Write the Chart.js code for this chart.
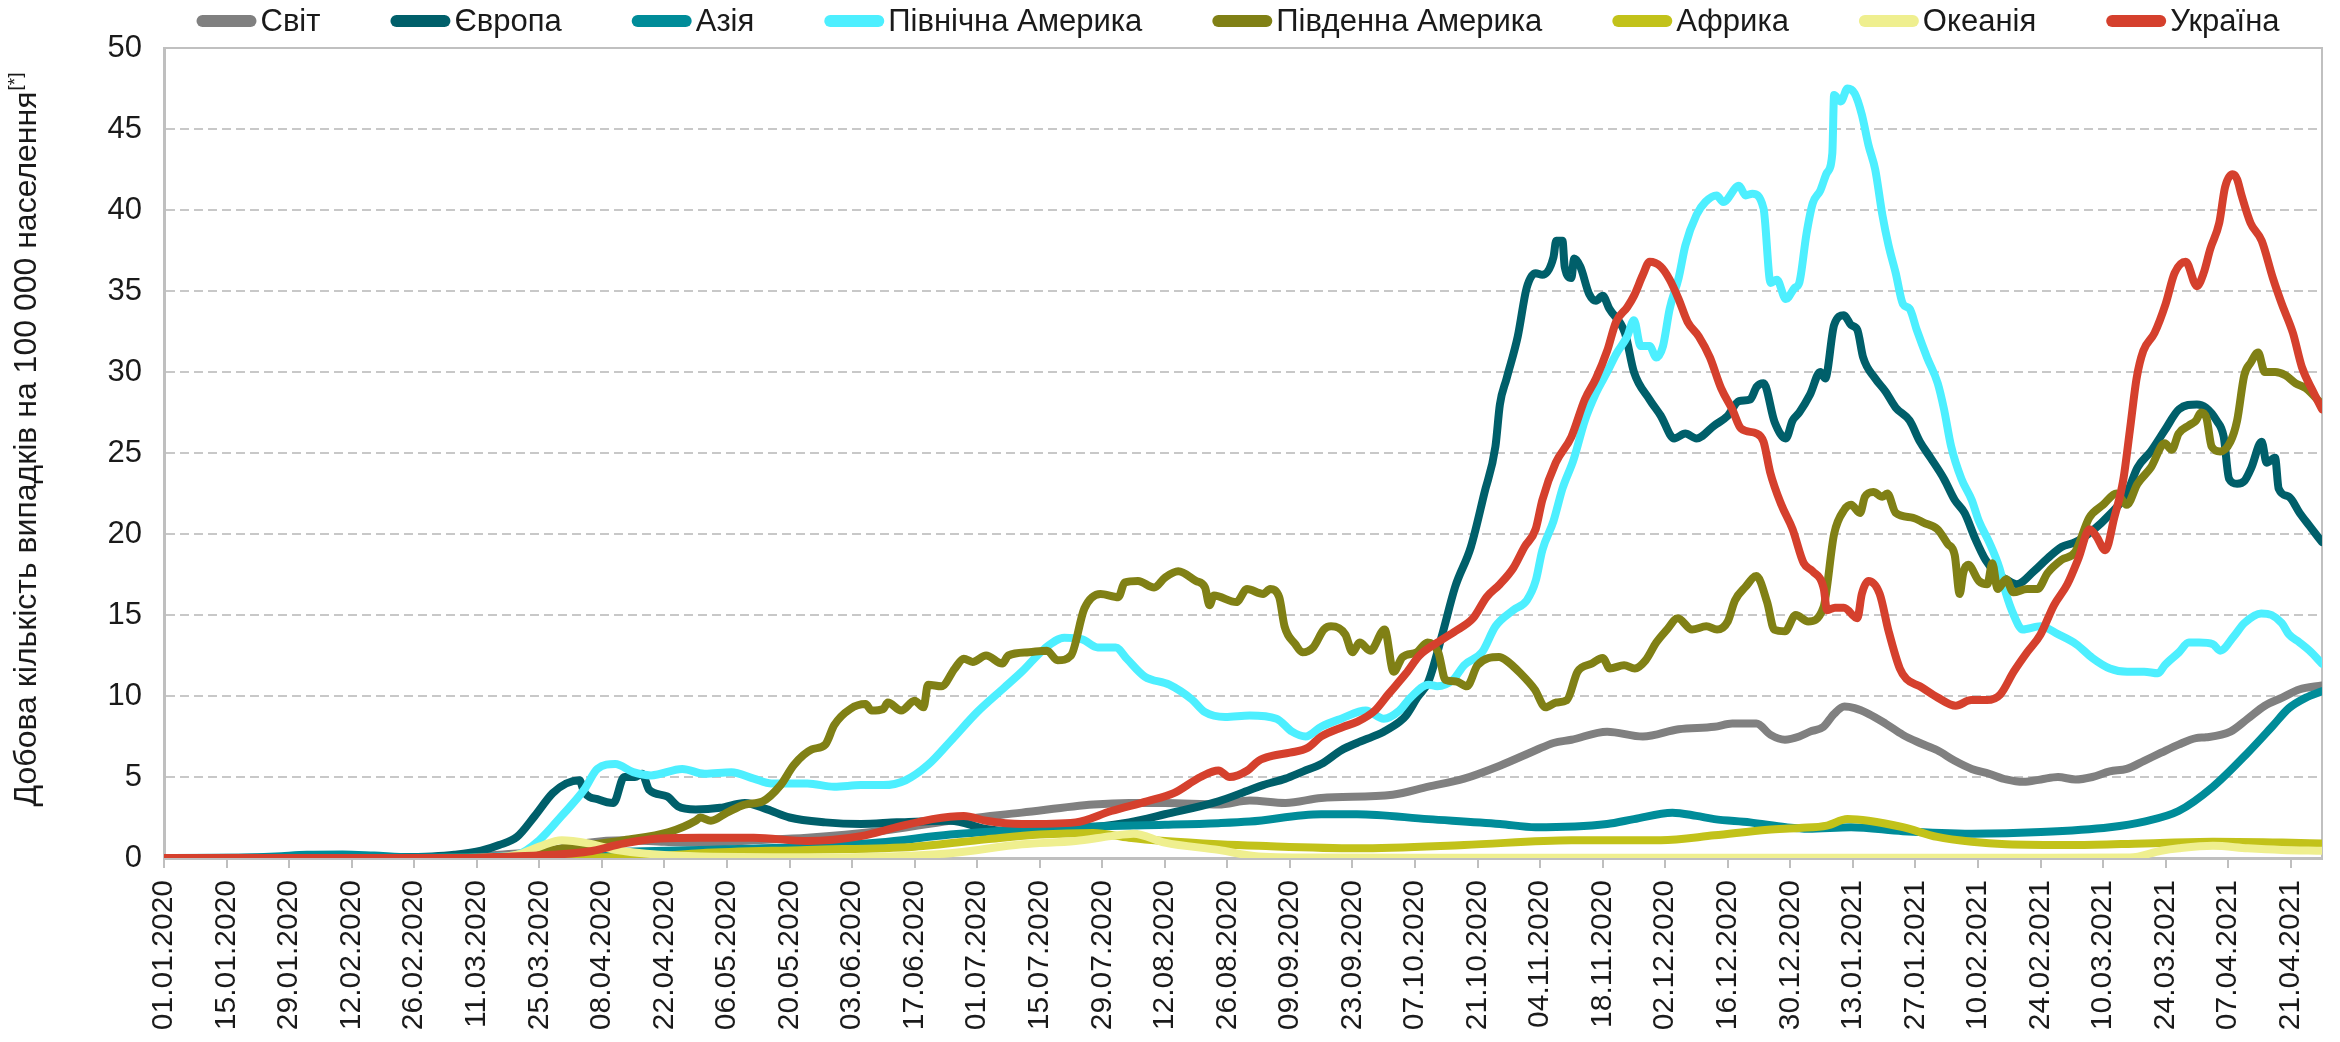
<!DOCTYPE html>
<html><head><meta charset="utf-8">
<script src="https://cdn.jsdelivr.net/npm/chart.js@4/dist/chart.umd.min.js"></script>
<style>html,body{margin:0;padding:0;background:#fff;}#wrap{width:2340px;height:1042px;}</style>
</head><body><div id="wrap"><canvas id="c" width="2340" height="1042"></canvas></div>
<script>
// day index 0 = 01.01.2020
const seriesNames = ['Світ','Європа','Азія','Північна Америка','Південна Америка','Африка','Океанія','Україна'];
const seriesColors = ['#808080','#005F6A','#008C99','#4DEFFF','#808015','#C2C21A','#EFEF8F','#D5402D'];

const tickDays = [0,14,28,42,56,70,84,98,112,126,140,154,168,182,196,210,224,238,252,266,280,294,308,322,336,350,364,378,392,406,420,434,448,462,476];
const tickLabels = ['01.01.2020','15.01.2020','29.01.2020','12.02.2020','26.02.2020','11.03.2020','25.03.2020','08.04.2020','22.04.2020','06.05.2020','20.05.2020','03.06.2020','17.06.2020','01.07.2020','15.07.2020','29.07.2020','12.08.2020','26.08.2020','09.09.2020','23.09.2020','07.10.2020','21.10.2020','04.11.2020','18.11.2020','02.12.2020','16.12.2020','30.12.2020','13.01.2021','27.01.2021','10.02.2021','24.02.2021','10.03.2021','24.03.2021','07.04.2021','21.04.2021'];

const world = [[0,0],[20,0.01],[35,0.03],[50,0.02],[65,0.05],[75,0.2],[87,0.5],[95,0.95],[103,1.1],[112,1.0],[120,0.95],[132,1.1],[144,1.25],[160,1.65],[176,2.3],[192,2.8],[208,3.3],[216,3.4],[224,3.4],[236,3.3],[243,3.55],[251,3.4],[259,3.7],[275,3.9],[283,4.4],[291,4.9],[299,5.7],[307,6.65],[311,7.1],[315,7.3],[323,7.8],[331,7.5],[339,7.95],[347,8.1],[351,8.3],[356.4,8.3],[359.6,7.6],[362.8,7.3],[366,7.5],[368.4,7.8],[371.4,8.1],[373.8,8.9],[376.1,9.35],[378.4,9.25],[381.5,8.9],[385.3,8.3],[389.2,7.6],[393,7.1],[396.9,6.65],[400.8,6.0],[404.6,5.5],[408.5,5.2],[412.3,4.85],[416.2,4.7],[420.1,4.85],[423.9,5.0],[427.8,4.85],[431.6,5.0],[435.5,5.35],[439.3,5.5],[443.2,6.0],[447,6.5],[450.9,7.0],[454.8,7.4],[457.1,7.45],[462.5,7.8],[466.4,8.6],[470.2,9.4],[474.1,9.9],[477.9,10.4],[483,10.65]];

const europe = [[0,0],[30,0.02],[50,0.05],[60,0.1],[65,0.2],[71,0.45],[75,0.8],[79,1.3],[83,2.6],[87,4.0],[90,4.6],[93,4.8],[94,4.1],[97.4,3.6],[100.6,3.4],[103,5.0],[105.4,5.0],[107,5.2],[108.6,4.2],[112.6,3.8],[115,3.2],[119,3.0],[124.5,3.1],[130,3.4],[135,3.0],[140,2.5],[148,2.2],[156,2.1],[164,2.2],[176,2.3],[184,1.8],[196,1.6],[208,1.9],[216,2.2],[224,2.7],[236,3.5],[243,4.2],[246,4.5],[251,4.9],[255,5.35],[259,5.8],[263.5,6.65],[267,7.1],[271.5,7.6],[273,7.8],[276.5,8.4],[278,8.8],[280.5,9.9],[283,10.9],[286,13.7],[289,16.75],[292.5,19.2],[295.5,22.5],[298,25.4],[299,28.0],[300.5,29.6],[303,32.2],[305,35.2],[307,36.1],[308.5,36.0],[311,37.1],[311.6,38.1],[313,38.1],[313.5,36.5],[315,35.8],[315.6,37.0],[317,36.5],[319,34.8],[320.5,34.4],[322,34.7],[323.5,33.9],[327,32.4],[329,30.0],[332.5,28.3],[335,27.3],[338,25.9],[340.5,26.2],[343,25.9],[347,26.7],[350,27.3],[352.5,28.2],[355,28.3],[356.5,29.1],[358,29.3],[360.5,26.9],[363,25.9],[364.5,27.0],[366,27.5],[368.4,28.6],[370.7,30.0],[371.8,29.6],[373.8,32.9],[376,33.5],[377.6,32.9],[379,32.6],[380.3,30.9],[383,29.6],[385.3,28.8],[387.6,27.8],[390.7,27.0],[393,25.7],[395.4,24.7],[398.4,23.4],[400.8,22.1],[403,21.3],[405.4,19.7],[407.7,18.4],[410,17.6],[412.3,17.2],[414.7,16.9],[418.5,17.7],[421.6,18.5],[424.7,19.2],[427.8,19.5],[431.6,20.2],[435.5,21.2],[439.3,22.5],[441.7,24.1],[444.7,25.1],[447.8,26.4],[451,27.7],[455,28.0],[457,27.8],[459.4,27.0],[461,26.0],[462.2,23.4],[464,23.1],[465.7,23.3],[467.2,24.1],[469.5,25.7],[470.6,24.4],[472.5,24.7],[473.3,22.8],[475.6,22.3],[478,21.3],[480.2,20.5],[483,19.5]];

const asia = [[0,0],[15,0.01],[25,0.1],[32,0.2],[40,0.22],[47,0.15],[55,0.05],[65,0.05],[75,0.1],[90,0.3],[105,0.4],[120,0.5],[144,0.7],[160,0.95],[176,1.45],[192,1.75],[208,1.95],[224,2.05],[236,2.15],[243,2.25],[259,2.7],[267,2.7],[283,2.4],[299,2.1],[307,1.9],[323,2.1],[329,2.4],[337.6,2.8],[343,2.6],[347,2.4],[355,2.2],[363,1.9],[368,1.8],[377.6,1.9],[389.2,1.65],[404.6,1.5],[420.1,1.6],[435.5,1.9],[443.2,2.25],[450.9,2.9],[458.6,4.4],[466.4,6.5],[471.8,8.1],[475.6,9.25],[479.4,9.9],[483,10.3]];

const northAmerica = [[0,0],[60,0],[70,0.02],[75,0.1],[79,0.2],[84,1.1],[89,2.6],[94,4.2],[97,5.5],[101,5.8],[105,5.3],[109,5.1],[116,5.5],[121,5.2],[127,5.3],[132,4.9],[136,4.6],[144,4.6],[150,4.4],[156,4.5],[161,4.5],[166,4.8],[171,5.75],[176,7.2],[182,9.0],[188,10.5],[192,11.5],[197,12.9],[201.5,13.6],[205.5,13.5],[209,13.0],[213,13.0],[215.5,12.3],[219.5,11.2],[225,10.7],[230,9.8],[233,9.0],[237.5,8.7],[243,8.8],[249,8.6],[252.5,7.8],[255.5,7.5],[259,8.1],[263.5,8.6],[269,9.1],[273,8.6],[276.5,9.1],[279,9.9],[283,10.7],[285,10.6],[288.5,11.0],[291,11.9],[295,12.7],[298,14.3],[302,15.3],[305,15.9],[307,17.1],[308.5,19.0],[311,20.8],[313,22.8],[315.5,24.6],[318,27.0],[320.5,28.7],[323,30.0],[325,31.1],[327.5,32.2],[329,33.2],[330.5,31.6],[332.5,31.6],[334,30.9],[335.5,31.6],[337,33.9],[339,35.8],[340.5,37.8],[343,39.7],[345,40.5],[347.5,40.9],[349,40.5],[352.5,41.5],[354,40.9],[355.5,41.0],[358,40.1],[359.6,35.5],[361,35.7],[363,34.5],[365,35.2],[366,35.5],[367.6,38.5],[369,40.4],[370.7,41.2],[372.2,42.3],[373.4,43.5],[373.8,47.1],[375.3,46.7],[376.8,47.5],[378.4,47.2],[380,45.9],[381.5,44.0],[383,42.5],[384.6,39.7],[386,37.8],[387.6,36.1],[389.2,34.2],[390.7,33.9],[392.3,32.6],[394.6,30.9],[397,29.3],[398.4,27.7],[400,25.4],[402.3,23.4],[404.6,22.1],[406.2,20.8],[408.5,19.5],[410.8,17.9],[412.3,16.3],[414,15.0],[416,14.1],[420,14.3],[424,13.8],[428,13.2],[431.6,12.35],[435.5,11.7],[439.4,11.5],[443.2,11.5],[446.3,11.4],[447.8,11.9],[451,12.7],[453.2,13.3],[455.5,13.3],[458.6,13.2],[460.2,12.8],[463.3,13.7],[465.6,14.5],[469.4,15.1],[471.7,15.0],[474,14.5],[475.6,13.8],[478,13.3],[480.2,12.8],[483,12.0]];

const southAmerica = [[0,0],[70,0],[80,0.1],[87,0.5],[95,0.8],[103,1.1],[113,1.6],[119,2.3],[120,2.5],[122.4,2.3],[126,2.8],[130,3.3],[134,3.5],[138,4.5],[141,5.75],[145,6.7],[148,7.0],[150,8.2],[153.6,9.2],[157,9.5],[158.4,9.1],[161,9.2],[162,9.6],[165,9.1],[168,9.7],[170,9.3],[171,10.7],[174,10.6],[177,11.7],[179,12.3],[181,12.1],[184,12.5],[187.6,12.0],[189,12.5],[193.6,12.7],[197.6,12.8],[200,12.2],[203,12.5],[206,15.4],[209.6,16.3],[213.6,16.1],[215,17.0],[218,17.1],[221.6,16.7],[224,17.3],[227,17.7],[231,17.1],[233,16.7],[234,15.6],[235,16.2],[240,15.8],[242.4,16.6],[246,16.3],[247.6,16.6],[249.6,16.1],[250.8,14.3],[253.2,13.2],[254.8,12.7],[257.2,13.0],[259.6,14.1],[261.2,14.3],[264.4,13.8],[266,12.7],[267.6,13.3],[270,12.8],[273.2,14.1],[275.2,11.5],[277.2,12.4],[280.4,12.7],[282.8,13.3],[285.2,12.7],[286.8,11.0],[289.2,10.9],[291.6,10.6],[294,11.9],[298.8,12.4],[300.4,12.2],[303.6,11.4],[306.8,10.4],[309.2,9.3],[311.6,9.6],[314,9.75],[316.4,11.5],[319.6,12.0],[322,12.35],[323.6,11.7],[326.8,11.9],[329.2,11.7],[331.6,12.2],[334,13.3],[336.4,14.1],[338.8,14.8],[342,14.1],[345.2,14.3],[347.6,14.1],[350,14.6],[351.6,15.9],[354,16.75],[356.4,17.4],[358.8,15.8],[360.4,14.1],[362.8,14.0],[365.2,15.0],[368,14.6],[371.4,15.45],[373.8,20.0],[376.1,21.5],[377.6,21.8],[379.6,21.3],[380.7,22.3],[382.6,22.6],[384.6,22.3],[385.7,22.5],[387.6,21.3],[391.5,21.0],[393.8,20.7],[396.9,20.3],[399.2,19.4],[400.8,18.7],[401.9,16.3],[402.7,17.6],[403.8,18.1],[406.2,17.1],[408.1,16.9],[409.2,18.2],[410.4,16.6],[412.3,17.2],[413.9,16.4],[417,16.6],[419.3,16.6],[421.6,17.6],[424.7,18.4],[427.8,18.9],[430.9,21.0],[434,21.8],[437,22.5],[439.3,21.8],[441.7,23.1],[444.7,24.1],[447.8,25.6],[449.4,25.2],[450.9,26.2],[453.2,26.7],[454.8,27.0],[455.9,27.5],[457.1,27.2],[458.3,25.4],[460.2,25.1],[462.5,25.7],[464,27.0],[465.6,29.8],[467.1,30.6],[468.7,31.2],[470.2,30.0],[472.5,30.0],[474.8,29.8],[477.1,29.3],[479.4,29.0],[483,28.0]];

const africa = [[0,0],[60,0],[80,0.02],[100,0.05],[110,0.1],[120,0.3],[144,0.5],[168,0.7],[184,1.15],[196,1.45],[208,1.55],[216,1.25],[224,1.05],[236,0.85],[245,0.75],[267,0.6],[291,0.8],[315,1.1],[335,1.1],[347,1.4],[359,1.75],[366,1.85],[372.2,2.0],[376.8,2.4],[381.5,2.3],[389.2,1.9],[396.9,1.3],[404.6,1.0],[412.3,0.85],[427.8,0.8],[443.2,0.9],[458.6,1.0],[474.1,0.95],[483,0.9]];

const oceania = [[0,0],[70,0],[79,0.2],[84,0.7],[89,1.1],[95,0.9],[101,0.5],[111,0.2],[120,0.1],[150,0.05],[176,0.3],[192,0.85],[204,1.05],[212,1.35],[217,1.5],[224,0.95],[236,0.5],[245,0.1],[260,0.03],[300,0.02],[350,0.02],[400,0.02],[440,0.03],[447,0.45],[451,0.6],[458.6,0.75],[466.4,0.6],[474,0.5],[483,0.45]];

const ukraine = [[0,0],[60,0],[70,0.02],[78,0.1],[87,0.2],[95,0.4],[103,0.9],[111,1.2],[120,1.25],[132,1.25],[144,1.05],[156,1.35],[164,1.9],[172,2.4],[179,2.6],[184,2.3],[192,2.1],[204,2.2],[212,2.9],[220,3.5],[226,4.0],[232,5.0],[236,5.4],[238.5,5.0],[242.5,5.4],[245,6.0],[248,6.3],[252,6.5],[256,6.8],[259,7.5],[264,8.1],[267,8.4],[271,9.1],[274,10.1],[278,11.4],[281,12.5],[285,13.3],[289,14.0],[293,14.8],[296,16.1],[299,16.9],[302,17.9],[304.5,19.2],[307,20.3],[308.5,22.1],[311.5,24.4],[315,26.0],[318,28.3],[320.5,29.6],[323,31.3],[325,33.1],[327.5,34.0],[329,34.7],[331,36.0],[332.5,36.8],[335,36.5],[337,35.7],[339,34.5],[341,33.1],[343.5,32.2],[346,30.9],[348.5,29.0],[351,27.7],[353,26.5],[356.5,26.2],[358,25.7],[359.5,23.8],[362,21.8],[364.5,20.3],[367,18.2],[369,17.7],[371.5,16.6],[372.2,15.3],[374,15.45],[376,15.45],[379,14.8],[380,16.3],[381.5,17.1],[384,16.3],[386,14.0],[388.5,11.7],[390,11.05],[393,10.6],[397,9.9],[401,9.4],[404.5,9.75],[408,9.75],[411,10.1],[414,11.5],[417,12.7],[420,13.8],[423,15.6],[426,16.9],[428.5,18.5],[431,20.3],[432.5,19.85],[434.5,19.0],[436.5,21.0],[438.5,23.3],[440,26.4],[441.5,29.6],[443,31.3],[445.5,32.4],[448,34.2],[450,36.1],[452.5,36.8],[455,35.3],[456.5,36.1],[458,37.6],[460,39.2],[461.3,41.4],[463,42.2],[464,41.9],[465,40.9],[467,39.2],[469.5,38.1],[472,35.8],[474,34.2],[476.5,32.4],[478.5,30.3],[481,28.8],[483,27.7]];

const seriesData = [world, europe, asia, northAmerica, southAmerica, africa, oceania, ukraine];
const yTitle = 'Добова кількість випадків на 100 000 населення';
const yTitleSup = '[*]';
const FONT = '"Liberation Sans", Arial, sans-serif';
const TEXT = '#1a1a1a';

const datasets = seriesNames.map((name, i) => ({
  label: name,
  data: seriesData[i].map(([x, y]) => ({x, y})),
  borderColor: seriesColors[i],
  backgroundColor: seriesColors[i],
  borderWidth: 8,
  pointRadius: 0,
  fill: false,
  cubicInterpolationMode: 'monotone',
  borderJoinStyle: 'round',
  borderCapStyle: 'round',
  order: seriesNames.length - i
}));

const framePlugin = {
  id: 'frame',
  beforeDatasetsDraw(chart) {
    const {ctx, chartArea: a} = chart;
    ctx.save();
    ctx.strokeStyle = '#c0c0c0';
    ctx.lineWidth = 2;
    ctx.beginPath();
    ctx.moveTo(a.left, a.top); ctx.lineTo(a.right, a.top); ctx.lineTo(a.right, a.bottom);
    ctx.stroke();
    ctx.restore();
  }
};

const legendTitlePlugin = {
  id: 'legendTitle',
  afterDraw(chart) {
    const {ctx} = chart;
    ctx.save();
    ctx.font = '31px ' + FONT;
    const mark = 60, gapText = 4, gapItem = 70;
    const widths = seriesNames.map(n => ctx.measureText(n).width);
    const total = widths.reduce((s, w) => s + mark + gapText + w, 0) + gapItem * (seriesNames.length - 1);
    let x = 1238 - total / 2;
    const y = 21;
    seriesNames.forEach((n, i) => {
      ctx.strokeStyle = seriesColors[i];
      ctx.lineWidth = 12;
      ctx.lineCap = 'round';
      ctx.beginPath(); ctx.moveTo(x + 6, y); ctx.lineTo(x + mark - 6, y); ctx.stroke();
      ctx.fillStyle = TEXT; ctx.textBaseline = 'middle'; ctx.textAlign = 'left';
      ctx.fillText(n, x + mark + gapText, y + 1);
      x += mark + gapText + widths[i] + gapItem;
    });
    // y axis title with superscript
    ctx.translate(27, 440);
    ctx.rotate(-Math.PI / 2);
    ctx.font = '32px ' + FONT;
    const mw = ctx.measureText(yTitle).width;
    ctx.font = '19px ' + FONT;
    const sw = ctx.measureText(yTitleSup).width;
    const start = -(mw + sw) / 2;
    ctx.textBaseline = 'middle'; ctx.textAlign = 'left'; ctx.fillStyle = TEXT;
    ctx.font = '32px ' + FONT;
    ctx.fillText(yTitle, start, 0);
    ctx.font = '19px ' + FONT;
    ctx.fillText(yTitleSup, start + mw + 1, -11);
    ctx.restore();
  }
};

new Chart(document.getElementById('c'), {
  type: 'line',
  data: {datasets},
  plugins: [framePlugin, legendTitlePlugin],
  options: {
    responsive: false,
    animation: false,
    devicePixelRatio: 1,
    layout: {padding: {left: 0, right: 18, top: 48, bottom: 0}},
    plugins: {legend: {display: false}, tooltip: {enabled: false}, title: {display: false}},
    scales: {
      x: {
        type: 'linear', min: 0, max: 483,
        afterFit(s) { s.height = 184; },
        afterBuildTicks(s) { s.ticks = tickDays.map(v => ({value: v})); },
        grid: {drawOnChartArea: false, drawTicks: true, tickLength: 10, color: '#bfbfbf', lineWidth: 2},
        border: {display: true, color: '#bfbfbf', width: 3},
        ticks: {
          autoSkip: false, minRotation: 90, maxRotation: 90, padding: 12,
          font: {family: FONT, size: 30}, color: TEXT,
          callback: (v) => { const i = tickDays.indexOf(v); return i >= 0 ? tickLabels[i] : ''; }
        }
      },
      y: {
        min: 0, max: 50,
        afterFit(s) { s.width = 164; },
        grid: {color: '#c8c8c8', lineWidth: 2, drawTicks: false},
        border: {display: true, color: '#bfbfbf', width: 3, dash: [9, 5]},
        ticks: {stepSize: 5, padding: 22, font: {family: FONT, size: 31}, color: TEXT}
      }
    }
  }
});
</script>
</body></html>
